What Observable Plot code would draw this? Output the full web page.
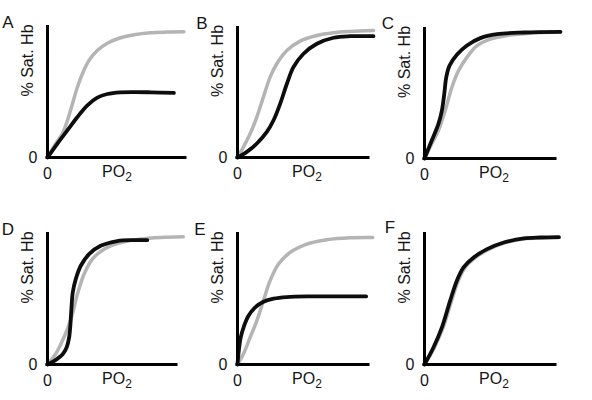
<!DOCTYPE html>
<html>
<head>
<meta charset="utf-8">
<script src="https://cdn.jsdelivr.net/npm/d3@7"></script>
<script src="https://cdn.jsdelivr.net/npm/@observablehq/plot@0.6"></script>
<style>
  body { margin: 0; background: #fff; }
  #fig { position: relative; width: 592px; height: 400px; overflow: hidden;
         font-family: "Liberation Sans", Arial, Helvetica, sans-serif; }
  #fig svg { position: absolute; }
</style>
</head>
<body>
<div id="fig"></div>
<script>
// Oxygen–haemoglobin dissociation curves: [PO2, % saturation] pairs,
// PO2 on a relative 0–100 scale across each panel's axis.
const aReference = [[0,0],[6,10.6],[10.8,18.1],[14.5,28.2],[18.1,40.8],[21.7,53.4],[25.3,63.5],[30.1,73.6],[36.1,81.1],[43.4,86.6],[53,90.7],[62.7,93],[74.7,94.5],[86.7,95],[98.8,95.2]];
const aShifted   = [[0,0],[7.2,10.6],[14.5,20.7],[21.7,30.7],[28.9,39.5],[36.1,45.3],[43.4,48.1],[53,49.4],[62.7,49.6],[74.7,49.4],[91.6,48.9]];

const bReference = [[0,0],[4.6,8.1],[9.7,18.3],[14.8,31],[19.8,46.2],[24.9,61.4],[30,71.6],[37.7,81.7],[47.8,88.8],[60.6,93.1],[73.3,95.2],[86,96.2],[103.8,97]];
const bShifted   = [[0,0],[7.1,4.3],[14.8,10.7],[22.4,19.5],[27.5,28.4],[32.6,41.1],[37.7,56.3],[42.7,69],[50.4,79.2],[60.6,86.8],[73.3,91.4],[86,92.6],[103.8,92.6]];

const cReference = [[0,0],[5.6,11.4],[10.7,21.5],[15.8,36.7],[20.9,54.4],[26,67.1],[32.4,77.2],[40.1,86.1],[50.3,91.1],[63,93.9],[80.9,95.7],[103.8,96.5]];
const cShifted   = [[0,0],[5.6,13.9],[10.7,26.6],[13.3,36.7],[15.1,49.4],[16.6,62],[19.1,70.9],[24.7,79.2],[32.4,86.3],[42.6,91.9],[55.4,94.9],[75.8,96.2],[103.8,96.7]];

const dReference = [[0,0],[6.4,8.1],[11.6,18.1],[15.5,26.9],[19.3,38.3],[23.2,53.4],[28.4,68.5],[34.8,79.8],[43.8,87.4],[56.7,92.4],[72.2,95],[87.6,96.2],[105.2,96.7]];
const dShifted   = [[0,0],[6.4,3.5],[11.6,7.6],[14.9,13.1],[16.8,20.7],[17.8,30.7],[18.6,43.3],[19.6,54.7],[21.9,64.7],[25.8,74.8],[32.2,83.6],[41.2,89.9],[54.1,93.5],[67,94.2],[77.3,94.2]];

const eReference = [[0,0],[4.6,8.1],[9.7,20.7],[14.8,33.2],[19.8,48.4],[24.9,63.5],[31.3,76.1],[40.2,84.9],[52.9,91.2],[68.2,94.5],[86,96],[103.3,96.2]];
const eShifted   = [[0,0],[1,10.6],[2.5,20.7],[5.1,29.5],[8.4,37],[13.5,43.3],[19.8,47.6],[27.5,49.9],[37.7,51.1],[55.5,51.6],[78.4,51.6],[98.2,51.6]];

const fReference = [[0,0],[7.4,12.6],[14,27.5],[20.4,47.4],[25.5,62.6],[30.6,73],[38.3,80.6],[48.5,87],[61.2,92.1],[76.5,95.3],[89,96],[102.6,96.3]];
const fShifted   = [[0,0],[6.9,13.1],[13.3,28.2],[19.6,48.4],[24.7,63.5],[29.8,73.6],[37.5,81.1],[47.7,87.4],[60.5,92.4],[75.8,95.5],[88.5,96.2],[102.6,96.5]];

const panelLetters = ["A", "B", "C", "D", "E", "F"];
const referenceCurves = [aReference, bReference, cReference, dReference, eReference, fReference];
const shiftedCurves = [aShifted, bShifted, cShifted, dShifted, eShifted, fShifted];
const yLabel = "% Sat. Hb";
const xLabel = "PO";
const xLabelSub = "2";
const zeroTick = ["0"];

// Page placement of each panel: axis origin, top of y axis, end of x axis, letter spot.
const layout = [
  {ox: 47,  oy: 157, top: 25,  xEnd: 185, lx: 8,   ly: 28},
  {ox: 237, oy: 157, top: 26,  xEnd: 368, lx: 202, ly: 29},
  {ox: 424, oy: 158, top: 27,  xEnd: 555, lx: 388, ly: 29},
  {ox: 47,  oy: 364, top: 232, xEnd: 176, lx: 8,   ly: 235},
  {ox: 237, oy: 364, top: 232, xEnd: 368, lx: 200, ly: 235},
  {ox: 424, oy: 364, top: 232, xEnd: 555, lx: 390, ly: 233}
];

const ink = "#151515";
const grey = "#b4b4b4";
const fig = document.getElementById("fig");

panelLetters.forEach((letter, i) => {
  const L = layout[i];
  const mL = 47, mT = 25, mR = 15, mB = 35;
  const innerW = L.xEnd - L.ox;
  const innerH = L.oy - L.top;
  const svgLeft = L.ox - mL, svgTop = L.top - mT;

  const plot = Plot.plot({
    width: mL + innerW + mR,
    height: mT + innerH + mB,
    marginLeft: mL, marginTop: mT, marginRight: mR, marginBottom: mB,
    x: {domain: [0, 100], axis: null},
    y: {domain: [0, 100], axis: null},
    style: {fontFamily: '"Liberation Sans", Arial, Helvetica, sans-serif', fontSize: "16px",
            color: ink, background: "transparent", overflow: "visible"},
    marks: [
      Plot.line(referenceCurves[i], {x: d => d[0], y: d => d[1], stroke: grey, strokeWidth: 3.5, curve: "catmull-rom"}),
      Plot.line(shiftedCurves[i], {x: d => d[0], y: d => d[1], stroke: "#0d0d0d", strokeWidth: 3.8, curve: "catmull-rom"}),
      Plot.ruleX([0], {stroke: "#000", strokeWidth: 3}),
      Plot.ruleY([0], {stroke: "#000", strokeWidth: 3, strokeLinecap: "square"}),
      Plot.text(zeroTick, {x: 0, y: 0, text: d => d, dx: -10, textAnchor: "end", fill: ink, fontSize: 16}),
      Plot.text(zeroTick, {x: 0, y: 0, text: d => d, dy: 10, lineAnchor: "top", fill: ink, fontSize: 16}),
      Plot.text([yLabel], {frameAnchor: "left", text: d => d, rotate: -90, dx: -20, dy: 5, fill: ink, fontSize: 16})
    ]
  });

  plot.style.left = svgLeft + "px";
  plot.style.top = svgTop + "px";

  const x = plot.scale("x"), y = plot.scale("y");
  const svg = d3.select(plot);
  const t = svg.append("text")
    .attr("x", x.apply(0) + 70)
    .attr("y", y.apply(0) + 20)
    .attr("text-anchor", "middle")
    .attr("fill", ink)
    .attr("font-size", 16)
    .text(xLabel);
  t.append("tspan").attr("dy", 4).attr("font-size", 12).text(xLabelSub);

  svg.append("text")
    .attr("x", L.lx - svgLeft)
    .attr("y", L.ly - svgTop)
    .attr("fill", ink)
    .attr("font-size", 17)
    .text(letter);

  fig.appendChild(plot);
});
</script>
</body>
</html>
